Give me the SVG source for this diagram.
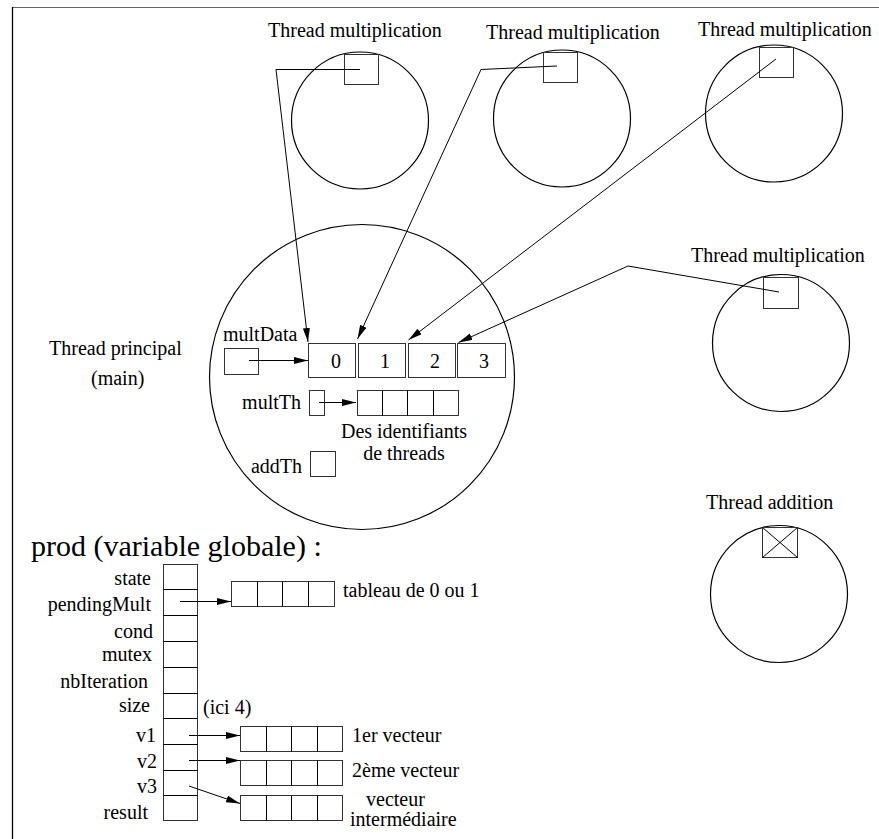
<svg xmlns="http://www.w3.org/2000/svg" width="879" height="839" viewBox="0 0 879 839" font-family="'Liberation Serif', 'Times New Roman', serif">
<defs>
<marker id="ah" markerUnits="userSpaceOnUse" markerWidth="15" markerHeight="8" refX="14" refY="3.5" orient="auto"><path d="M0,0 L14,3.5 L0,7 z" fill="#000"/></marker>
<style>
text{font-family:'Liberation Serif','Times New Roman',serif;font-size:20px;fill:#000}
.big{font-size:30px}
.c{fill:none;stroke:#000;stroke-width:1.2}
.b{fill:none;stroke:#333;stroke-width:1}
.l{fill:none;stroke:#000;stroke-width:1}
.a{fill:none;stroke:#000;stroke-width:1;marker-end:url(#ah)}
.mid{text-anchor:middle}
.end{text-anchor:end}
</style>
</defs>
<rect width="879" height="839" fill="#fff"/>
<g id="frame">
<line x1="12" y1="7.5" x2="879" y2="7.5" stroke="#666" stroke-width="1.2"/>
<line x1="12.5" y1="7" x2="12.5" y2="839" stroke="#000" stroke-width="1.3"/>
</g>

<g id="thread-mult-1">
<text x="268" y="37">Thread multiplication</text>
<circle class="c" cx="360" cy="120.5" r="68.5"/>
<rect class="b" x="344.5" y="54.5" width="34" height="30"/>
</g>
<g id="thread-mult-2">
<text x="486" y="39">Thread multiplication</text>
<circle class="c" cx="562" cy="118.5" r="68.5"/>
<rect class="b" x="543.5" y="52.5" width="34" height="30"/>
</g>
<g id="thread-mult-3">
<text x="698" y="36">Thread multiplication</text>
<circle class="c" cx="774" cy="113.5" r="68.5"/>
<rect class="b" x="759.5" y="47.5" width="34" height="30"/>
</g>
<g id="thread-mult-4">
<text x="691" y="262">Thread multiplication</text>
<circle class="c" cx="781" cy="343" r="68.5"/>
<rect class="b" x="763.5" y="277.5" width="35" height="31"/>
</g>
<g id="thread-addition">
<text x="706" y="509">Thread addition</text>
<circle class="c" cx="779" cy="594" r="68.5"/>
<rect class="b" x="762.5" y="527.5" width="35" height="30"/>
<path class="l" d="M762.5,527.5 L797.5,557.5 M762.5,557.5 L797.5,527.5"/>
</g>

<g id="thread-principal">
<text x="49" y="355">Thread principal</text>
<text x="91" y="385">(main)</text>
<circle class="c" cx="362" cy="377" r="152.5"/>
<text x="223" y="341">multData</text>
<rect class="b" x="224.5" y="348.5" width="34" height="26"/>
<rect class="b" x="308.5" y="343.5" width="47" height="34"/>
<rect class="b" x="358.5" y="343.5" width="47" height="34"/>
<rect class="b" x="408.5" y="343.5" width="47" height="34"/>
<rect class="b" x="457.5" y="343.5" width="48" height="34"/>
<text x="336" y="368" class="mid">0</text>
<text x="385" y="368" class="mid">1</text>
<text x="435" y="368" class="mid">2</text>
<text x="484" y="368" class="mid">3</text>
<text x="301" y="409" class="end">multTh</text>
<rect class="b" x="309.5" y="390.5" width="15" height="25"/>
<rect class="b" x="357.5" y="390.5" width="101" height="25"/>
<path class="l" d="M382.5,390.5 V415.5 M407.5,390.5 V415.5 M433.5,390.5 V415.5" stroke="#333"/>
<text x="404" y="438" class="mid">Des identifiants</text>
<text x="404" y="460" class="mid">de threads</text>
<text x="302" y="473" class="end">addTh</text>
<rect class="b" x="310.5" y="451.5" width="25" height="25"/>
</g>

<g id="prod">
<text x="31" y="556" class="big">prod (variable globale) :</text>
<rect class="b" x="163.5" y="564.5" width="34" height="256"/>
<path class="l" d="M163.5,589.5 H197.5 M163.5,615.5 H197.5 M163.5,641.5 H197.5 M163.5,667.5 H197.5 M163.5,693.5 H197.5 M163.5,718.5 H197.5 M163.5,744.5 H197.5 M163.5,770.5 H197.5 M163.5,795.5 H197.5"/>
<text x="151" y="585" class="end">state</text>
<text x="151" y="611" class="end">pendingMult</text>
<text x="153" y="638" class="end">cond</text>
<text x="152" y="661" class="end">mutex</text>
<text x="148" y="688" class="end">nbIteration</text>
<text x="150" y="712" class="end">size</text>
<text x="156" y="742" class="end">v1</text>
<text x="157" y="768" class="end">v2</text>
<text x="157" y="793" class="end">v3</text>
<text x="148" y="819" class="end">result</text>

<rect class="b" x="231.5" y="581.5" width="103" height="25"/>
<path class="l" d="M257.5,581.5 V606.5 M282.5,581.5 V606.5 M308.5,581.5 V606.5" stroke="#333"/>
<text x="343" y="597">tableau de 0 ou 1</text>

<text x="203" y="714">(ici 4)</text>

<rect class="b" x="240.5" y="726.5" width="102" height="25"/>
<path class="l" d="M266.5,726.5 V751.5 M291.5,726.5 V751.5 M317.5,726.5 V751.5"/>
<text x="352" y="742">1er vecteur</text>

<rect class="b" x="240.5" y="760.5" width="102" height="25"/>
<path class="l" d="M266.5,760.5 V785.5 M291.5,760.5 V785.5 M317.5,760.5 V785.5"/>
<text x="352" y="777">2ème vecteur</text>

<rect class="b" x="240.5" y="795.5" width="102" height="25"/>
<path class="l" d="M266.5,795.5 V820.5 M291.5,795.5 V820.5 M317.5,795.5 V820.5"/>
<text x="366" y="806">vecteur</text>
<text x="350" y="826">intermédiaire</text>
</g>

<g id="connectors">
<polyline class="a" points="360,69.5 276,69.5 308,342"/>
<polyline class="a" points="557,66 481,69.5 357.5,339"/>
<line class="a" x1="776" y1="59" x2="408.5" y2="340"/>
<polyline class="a" points="779,292 628,266 458.5,342.5"/>
<line class="a" x1="249" y1="360.5" x2="308" y2="360.5"/>
<line class="a" x1="319" y1="402.5" x2="356" y2="402.5"/>
<line class="a" x1="180" y1="601.5" x2="231" y2="601.5"/>
<line class="a" x1="189" y1="735.5" x2="240" y2="735.5"/>
<line class="a" x1="189" y1="760.5" x2="240" y2="760.5"/>
<line class="a" x1="189" y1="786" x2="240" y2="803.5"/>
</g>
</svg>
